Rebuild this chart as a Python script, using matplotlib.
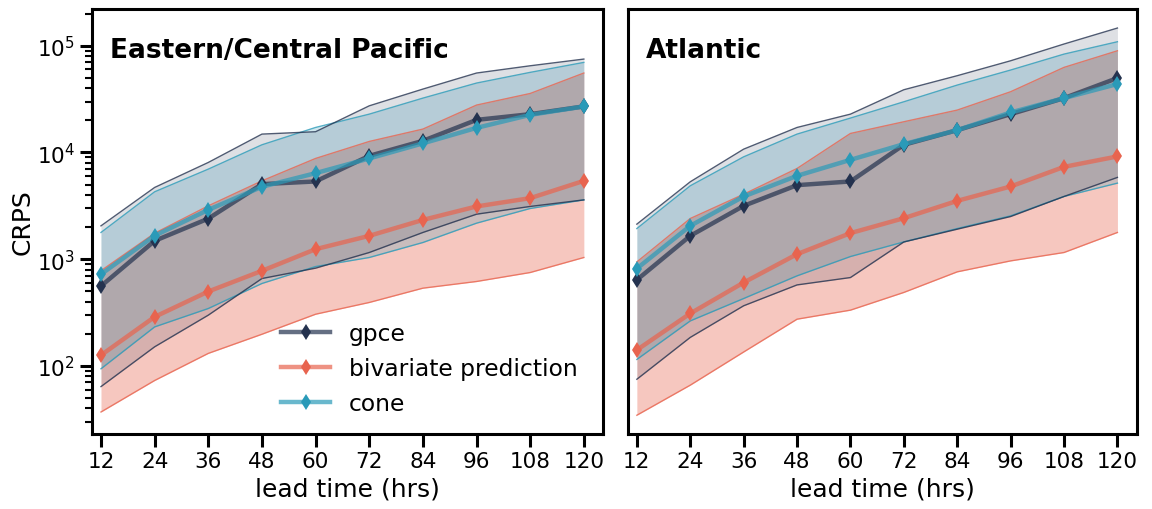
import numpy as np
import matplotlib
matplotlib.use("Agg")
import matplotlib.pyplot as plt
from matplotlib.colors import to_rgba

lead = [12, 24, 36, 48, 60, 72, 84, 96, 108, 120]

# Eastern/Central Pacific: median and band (lower/upper) per method
ep_gpce = [560, 1485, 2400, 5050, 5350, 9300, 12850, 20200, 22850, 27000]
ep_gpce_lo = [64, 151, 299, 659, 824, 1155, 1780, 2640, 3120, 3595]
ep_gpce_hi = [2053, 4700, 8060, 14860, 15640, 27350, 39250, 55500, 64900, 75000]

ep_biv = [126, 288, 498, 778, 1241, 1655, 2333, 3120, 3733, 5420]
ep_biv_lo = [37, 73, 131, 198, 305, 393, 535, 618, 750, 1037]
ep_biv_hi = [780, 1750, 3160, 5420, 8790, 12680, 16560, 27800, 35700, 55500]

ep_cone = [723, 1660, 2900, 4770, 6400, 8790, 12170, 17000, 22500, 27000]
ep_cone_lo = [94, 232, 345, 592, 853, 1037, 1433, 2175, 2985, 3595]
ep_cone_hi = [1780, 4280, 6980, 11800, 17150, 22860, 32300, 44700, 56300, 69800]

# Atlantic
al_gpce = [640, 1655, 3160, 4940, 5350, 11800, 16190, 22860, 32300, 49800]
al_gpce_lo = [75, 185, 366, 574, 673, 1450, 1910, 2510, 3870, 5840]
al_gpce_hi = [2130, 5310, 10740, 17150, 22860, 38700, 52400, 72300, 103800, 146500]

al_biv = [141, 310, 604, 1114, 1755, 2423, 3520, 4800, 7330, 9180]
al_biv_lo = [34.5, 66, 135, 274, 333, 488, 761, 964, 1155, 1780]
al_biv_hi = [943, 2405, 4060, 7080, 15070, 19400, 24950, 37070, 62700, 89700]

al_cone = [817, 2053, 3870, 6040, 8530, 11970, 16190, 23700, 32300, 43800]
al_cone_lo = [115, 264, 428, 698, 1059, 1452, 1937, 2547, 3870, 5160]
al_cone_hi = [1937, 4870, 9100, 14860, 21000, 29850, 42800, 59200, 83500, 109000]

c_gpce = '#24324f'
c_biv = '#e8644f'
c_cone = '#2a9ab8'

fig = plt.figure(figsize=(11.52, 5.1), dpi=100)
ax1 = fig.add_axes([0.0799, 0.147, 0.4436, 0.833])
ax2 = fig.add_axes([0.5451, 0.147, 0.4415, 0.833], sharey=ax1)


def draw(ax, title, gp, gp_lo, gp_hi, bv, bv_lo, bv_hi, cn, cn_lo, cn_hi):
    # bands: bivariate first, cone, then gpce on top
    ax.fill_between(lead, bv_lo, bv_hi, color=c_biv, alpha=0.36, lw=0)
    ax.fill_between(lead, cn_lo, cn_hi, color=c_cone, alpha=0.22, lw=0)
    ax.fill_between(lead, gp_lo, gp_hi, color=c_gpce, alpha=0.15, lw=0)
    for lo, hi, c in [(bv_lo, bv_hi, c_biv), (cn_lo, cn_hi, c_cone), (gp_lo, gp_hi, c_gpce)]:
        ax.plot(lead, lo, color=c, lw=1.0, alpha=0.8)
        ax.plot(lead, hi, color=c, lw=1.0, alpha=0.8)

    for y, c, lab in [(gp, c_gpce, 'gpce'), (bv, c_biv, 'bivariate prediction'), (cn, c_cone, 'cone')]:
        ax.plot(lead, y, color=to_rgba(c, 0.7), lw=3.2, marker='d', markersize=8,
                mew=0, mfc=c, label=lab)

    ax.text(0.035, 0.934, title, transform=ax.transAxes, fontsize=19,
            fontweight='bold', va='top', ha='left')
    ax.set_yscale('log')
    ax.set_xlim(10, 124.3)
    ax.set_ylim(23, 2.2e5)
    ax.set_xticks(lead)
    ax.set_xlabel('lead time (hrs)', fontsize=18)
    ax.tick_params(axis='both', which='major', labelsize=15.5, length=9, width=2.2)
    ax.tick_params(axis='y', which='minor', length=5, width=1.5)
    for s in ax.spines.values():
        s.set_linewidth(2.2)


draw(ax1, 'Eastern/Central Pacific', ep_gpce, ep_gpce_lo, ep_gpce_hi,
     ep_biv, ep_biv_lo, ep_biv_hi, ep_cone, ep_cone_lo, ep_cone_hi)
draw(ax2, 'Atlantic', al_gpce, al_gpce_lo, al_gpce_hi,
     al_biv, al_biv_lo, al_biv_hi, al_cone, al_cone_lo, al_cone_hi)

ax1.set_ylabel('CRPS', fontsize=18, labelpad=1)
ax2.tick_params(axis='y', which='both', left=False, labelleft=False)
ax1.legend(loc='lower right', bbox_to_anchor=(0.982, 0.007), frameon=False,
           fontsize=16.8, handlelength=2.1, borderaxespad=0.3)

fig.savefig('out.png', dpi=100)
